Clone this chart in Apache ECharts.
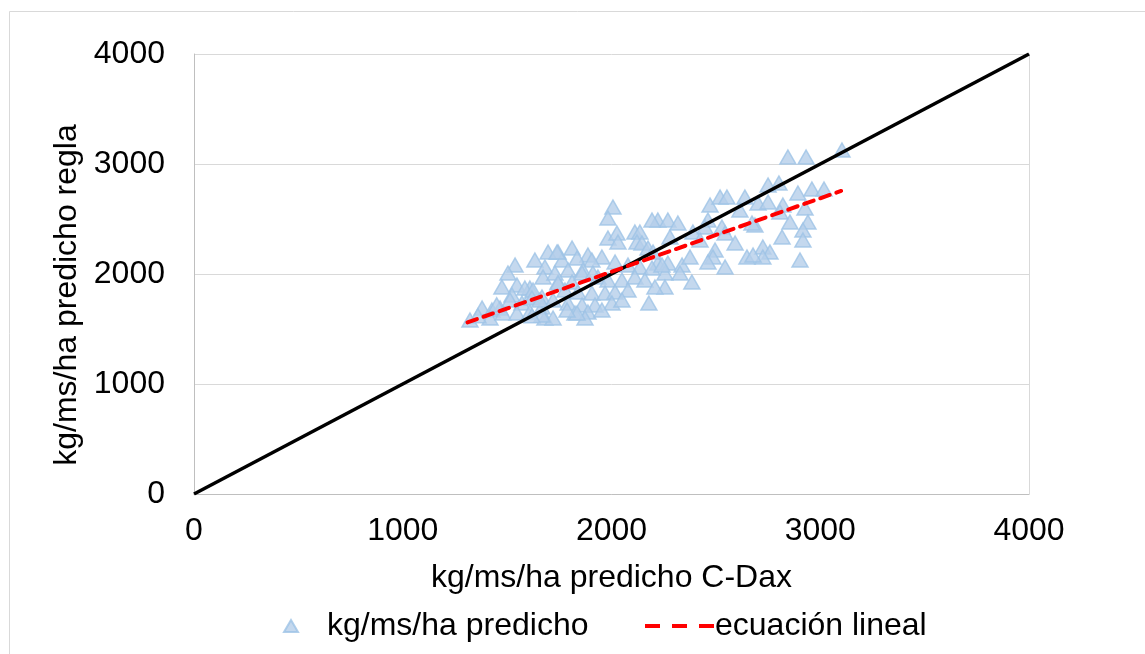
<!DOCTYPE html>
<html>
<head>
<meta charset="utf-8">
<script src="https://cdn.jsdelivr.net/npm/echarts@6/dist/echarts.min.js"></script>
<style>
  html, body { margin: 0; padding: 0; background: #fff; }
  #chart { width: 1145px; height: 654px; }
</style>
</head>
<body>
<div id="chart"></div>
<script>
// Predicted dry-matter (kg/ms/ha): C-Dax reading vs. rule-based prediction
const predCDax = [
  2845, 2932, 3104, 2750, 2802, 2893, 2960, 3018, 2702, 2750, 2821, 2927, 2807, 2855, 2941, 2917, 2917, 2817, 2725, 2759, 2725, 2903, 2687,
  2472, 2520, 2553, 2639, 2615, 2222, 2270, 2318, 2462, 2448, 2529, 2673, 2390, 2424, 2280, 2544, 2496, 2486, 2592, 2649, 2678, 2222, 2270, 2338, 2376, 2462, 2544, 2256, 2328, 2385, 2256,
  2007, 1983, 2194, 2112, 2136, 1983, 2026, 2031, 2122, 2146, 1811, 1744, 1887, 1954, 1906, 2175, 2199, 1763, 1835, 2017, 2079, 2136, 1792, 1863, 2194, 2242, 1935, 1983, 2050, 1744, 1811, 2112, 2160, 2208, 1777, 1839, 1906, 1969, 2017, 2079, 2179, 1792, 1859, 1921, 2002, 2050, 1825, 1887, 1954, 1873,
  1633, 1538, 1504, 1475, 1547, 1609, 1681, 1672, 1696, 1739, 1859, 1911, 1523, 1571, 1609, 1667, 1667, 1720, 1322, 1380, 1427, 1466, 1418, 1480, 1547, 1609, 1681, 1720, 1835, 1787, 1514, 1585, 1624, 1729, 1744, 1619, 1657, 1667, 1619, 1360, 1450
];
const predRegla = [
  3064, 3064, 3127, 2809, 2827, 2736, 2773, 2773, 2645, 2655, 2627, 2600, 2564, 2473, 2473, 2400, 2309, 2336, 2245, 2200, 2155, 2127, 2445,
  2627, 2700, 2700, 2700, 2582, 2491, 2491, 2464, 2491, 2427, 2427, 2464, 2382, 2309, 2336, 2373, 2218, 2155, 2282, 2155, 2173, 2100, 2100, 2082, 2155, 2109, 2064, 2009, 2009, 1927, 1882,
  2609, 2509, 2491, 2382, 2382, 2327, 2373, 2291, 2291, 2282, 2236, 2200, 2173, 2155, 2127, 2236, 2200, 2127, 2145, 2109, 2082, 2064, 2036, 2036, 2055, 2082, 1973, 1945, 1945, 1927, 1927, 1973, 1945, 1882, 1855, 1836, 1827, 1827, 1836, 1855, 1736, 1736, 1718, 1718, 1736, 1764, 1645, 1655, 1673, 1600,
  2127, 2082, 2009, 1882, 1900, 1873, 2064, 1973, 2200, 2200, 2009, 2009, 1809, 1736, 1791, 1791, 1700, 1764, 1582, 1691, 1673, 1691, 1600, 1645, 1645, 1655, 1600, 1600, 1645, 1673, 1764, 1873, 1855, 2009, 1918, 1782, 1764, 1627, 1620, 1620, 1720
];

// Fitted linear equation, drawn between its two end points
const fitX = [1310, 3100];
const fitY = [1560, 2755];

// 1:1 reference line
const identityX = [0, 4000];
const identityY = [0, 4000];

const axisTicks = [0, 1000, 2000, 3000, 4000];

const seriesNames = ['kg/ms/ha predicho', 'ecuación lineal'];
const xTitle = 'kg/ms/ha predicho C-Dax';
const yTitle = 'kg/ms/ha predicho regla';

const FONT = "'Liberation Sans', Arial, sans-serif";
const FS = 32;

const scatterData = predCDax.map((x, i) => [x, predRegla[i]]);
const fitData = fitX.map((x, i) => [x, fitY[i]]);
const identityData = identityX.map((x, i) => [x, identityY[i]]);

// three short dashes used as the legend glyph of the fitted line
const dashIcon = 'path://M0,0 H15 V4 H0 Z M27,0 H42 V4 H27 Z M54,0 H69 V4 H54 Z';

const chart = echarts.init(document.getElementById('chart'), null, { renderer: 'canvas' });

chart.setOption({
  backgroundColor: '#ffffff',
  animation: false,
  textStyle: { fontFamily: FONT },
  graphic: [{
    type: 'rect',
    shape: { x: 9.5, y: 11.5, width: 1200, height: 700 },
    style: { fill: 'none', stroke: '#D9D9D9', lineWidth: 1 },
    silent: true,
    z: -10
  }],
  grid: { left: 194, top: 54, width: 835, height: 440, containLabel: false },
  xAxis: {
    type: 'value',
    min: axisTicks[0],
    max: axisTicks[axisTicks.length - 1],
    interval: axisTicks[1] - axisTicks[0],
    name: xTitle,
    nameLocation: 'middle',
    nameGap: 68,
    nameTextStyle: { fontSize: FS, color: '#000', fontFamily: FONT },
    axisLine: { show: true, lineStyle: { color: '#BFBFBF', width: 1 } },
    axisTick: { show: false },
    splitLine: { show: false },
    axisLabel: { fontSize: FS, color: '#000', margin: 21, fontFamily: FONT, formatter: v => String(v) }
  },
  yAxis: [{
    type: 'value',
    min: axisTicks[0],
    max: axisTicks[axisTicks.length - 1],
    interval: axisTicks[1] - axisTicks[0],
    name: yTitle,
    nameLocation: 'middle',
    nameGap: 103,
    nameTextStyle: { fontSize: FS, color: '#000', fontFamily: FONT, padding: [0, 42, 0, 0] },
    axisLine: { show: true, lineStyle: { color: '#BFBFBF', width: 1 } },
    axisTick: { show: false },
    splitLine: { show: true, lineStyle: { color: '#D9D9D9', width: 1 } },
    axisLabel: { fontSize: FS, color: '#000', margin: 29, fontFamily: FONT, formatter: v => String(v) }
  }, {
    type: 'value',
    position: 'right',
    min: axisTicks[0],
    max: axisTicks[axisTicks.length - 1],
    axisLine: { show: true, lineStyle: { color: '#D9D9D9', width: 1 } },
    axisTick: { show: false },
    axisLabel: { show: false },
    splitLine: { show: false }
  }],
  legend: [{
    left: 278,
    top: 605,
    itemWidth: 14,
    itemHeight: 12,
    textStyle: { fontSize: FS, color: '#000', fontFamily: FONT, padding: [0, 0, 0, 24] },
    data: [{ name: seriesNames[0], icon: 'triangle' }]
  }, {
    left: 640,
    top: 605,
    itemWidth: 69,
    itemHeight: 4,
    textStyle: { fontSize: FS, color: '#000', fontFamily: FONT, padding: [0, 0, 0, -4] },
    data: [{ name: seriesNames[1], icon: dashIcon, itemStyle: { color: '#FF0000', borderWidth: 0 } }]
  }],
  series: [
    {
      name: seriesNames[0],
      type: 'scatter',
      data: scatterData,
      symbol: 'triangle',
      symbolSize: [16, 14],
      itemStyle: { color: '#B5CEEA', borderColor: '#9DC3E6', borderWidth: 1.5 },
      z: 2
    },
    {
      name: seriesNames[1],
      type: 'line',
      data: fitData,
      showSymbol: false,
      symbol: 'none',
      itemStyle: { color: '#FF0000' },
      lineStyle: { color: '#FF0000', width: 4, type: [10, 7], cap: 'round' },
      z: 4
    },
    {
      name: '1:1',
      type: 'line',
      data: identityData,
      showSymbol: false,
      symbol: 'none',
      itemStyle: { color: '#000000' },
      lineStyle: { color: '#000000', width: 3.5 },
      z: 3
    }
  ]
});
</script>
</body>
</html>
